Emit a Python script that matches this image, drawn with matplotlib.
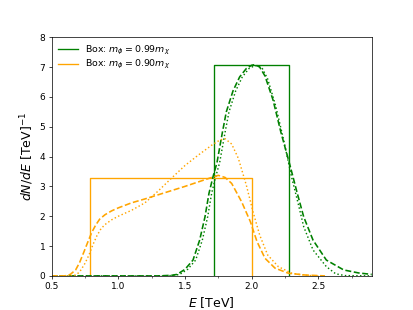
import numpy as np
import matplotlib
matplotlib.use('Agg')
import matplotlib.pyplot as plt
from matplotlib.ticker import MultipleLocator

# box spectra: (E_lo, E_hi, height)
box_099 = (1.717, 2.283, 7.08)
box_090 = (0.787, 2.0, 3.29)

# green (m_phi = 0.99 m_chi), smeared curves
E_g_dash = [0.5, 1.3, 1.4, 1.44, 1.5, 1.56, 1.61, 1.65, 1.68, 1.71, 1.74, 1.78, 1.81, 1.86, 1.91,
            1.96, 2.0, 2.025, 2.06, 2.1, 2.16, 2.22, 2.29, 2.34, 2.39, 2.46, 2.56, 2.69, 2.8, 2.9]
y_g_dash = [0, 0, 0.02, 0.05, 0.22, 0.53, 1.2, 1.98, 2.77, 3.32, 3.8, 4.8, 5.5, 6.2, 6.67,
            6.95, 7.06, 7.08, 7.0, 6.7, 5.9, 4.8, 3.66, 2.8, 1.98, 1.2, 0.53, 0.2, 0.1, 0.05]
E_g_dot = [0.5, 1.35, 1.42, 1.46, 1.52, 1.58, 1.63, 1.67, 1.7, 1.73, 1.76, 1.8, 1.83, 1.88, 1.93,
           1.98, 2.02, 2.045, 2.08, 2.12, 2.18, 2.24, 2.3, 2.35, 2.39, 2.46, 2.56, 2.63, 2.7, 2.9]
y_g_dot = [0, 0, 0.02, 0.05, 0.22, 0.53, 1.2, 1.98, 2.77, 3.32, 3.8, 4.8, 5.5, 6.2, 6.67,
           6.95, 7.04, 7.05, 6.95, 6.6, 5.7, 4.55, 3.3, 2.4, 1.65, 0.87, 0.31, 0.07, 0.01, 0]

# orange (m_phi = 0.90 m_chi)
E_o_dash = [0.5, 0.6, 0.64, 0.68, 0.71, 0.74, 0.77, 0.8, 0.83, 0.86, 0.9, 0.95, 1.0, 1.1, 1.2, 1.3,
            1.4, 1.5, 1.6, 1.7, 1.75, 1.8, 1.85, 1.925, 1.99, 2.04, 2.1, 2.175, 2.275, 2.4, 2.55]
y_o_dash = [0, 0, 0.05, 0.2, 0.45, 0.78, 1.12, 1.45, 1.7, 1.9, 2.05, 2.18, 2.28, 2.45, 2.58, 2.72,
            2.86, 3.0, 3.15, 3.3, 3.37, 3.3, 3.1, 2.48, 1.82, 1.15, 0.59, 0.26, 0.09, 0.03, 0]
E_o_dot = [0.5, 0.66, 0.69, 0.72, 0.75, 0.78, 0.81, 0.84, 0.87, 0.9, 0.95, 1.0, 1.1, 1.2, 1.3, 1.4,
           1.5, 1.6, 1.7, 1.76, 1.8, 1.85, 1.9, 1.96, 2.01, 2.06, 2.12, 2.2, 2.3, 2.4, 2.5]
y_o_dot = [0, 0, 0.05, 0.2, 0.42, 0.7, 1.05, 1.35, 1.58, 1.72, 1.88, 2.0, 2.2, 2.45, 2.85, 3.28,
           3.7, 4.05, 4.38, 4.55, 4.6, 4.42, 3.94, 3.04, 2.15, 1.37, 0.7, 0.31, 0.09, 0.02, 0]

fig, ax = plt.subplots(figsize=(413/64.5, 310/64.5), dpi=64.5)

for box, col, lab in [(box_099, 'green', r'Box: $m_\phi = 0.99 m_\chi$'),
                      (box_090, 'orange', r'Box: $m_\phi = 0.90 m_\chi$')]:
    lo, hi, h = box
    ax.plot([lo, lo, hi, hi], [0, h, h, 0], color=col, lw=1.5, label=lab)

ax.plot(E_g_dash, y_g_dash, color='green', ls='--', lw=1.8)
ax.plot(E_g_dot, y_g_dot, color='green', ls=':', lw=1.6)
ax.plot(E_o_dash, y_o_dash, color='orange', ls='--', lw=1.8)
ax.plot(E_o_dot, y_o_dot, color='orange', ls=':', lw=1.6)

ax.set_xlim(0.5, 2.9)
ax.set_ylim(0, 8)
ax.xaxis.set_minor_locator(MultipleLocator(0.25))
ax.tick_params(labelsize=10)
ax.set_xlabel(r'$E$ [TeV]', fontsize=14)
ax.set_ylabel(r'$dN/dE$ [TeV]$^{-1}$', fontsize=14)
ax.legend(loc='upper left', frameon=False, fontsize=10.5, labelspacing=0.15,
          borderaxespad=0.3, handlelength=2.1)

plt.savefig('out.png', dpi=64.5)
